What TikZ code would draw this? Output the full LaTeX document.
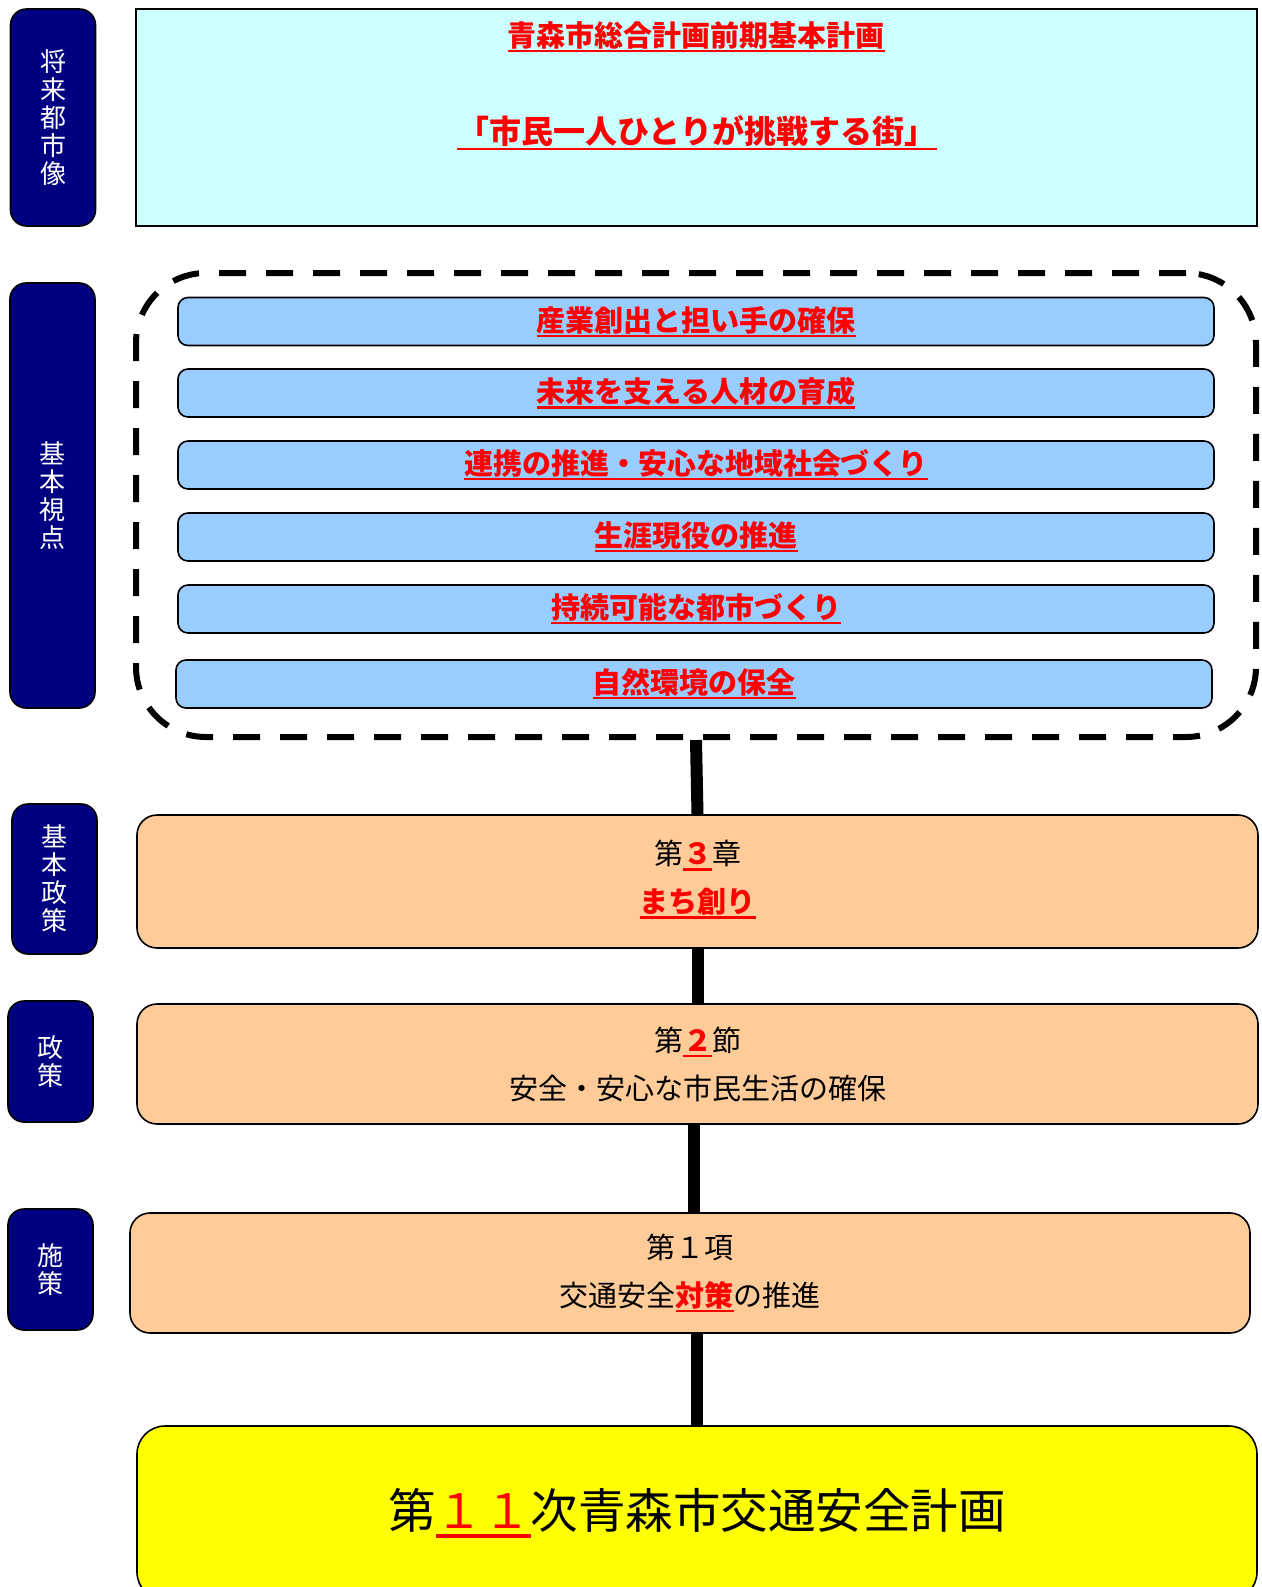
\documentclass[tikz,border=0pt]{standalone}
\usepackage{fontspec}
\setmainfont{Noto Sans CJK JP}
\usepackage{xcolor}
\usepackage{tikz}
\usetikzlibrary{positioning}

\definecolor{tagnavy}{RGB}{0,0,128}
\definecolor{visionfill}{HTML}{CCFFFF}
\definecolor{viewfill}{HTML}{99CCFF}
\definecolor{stagefill}{HTML}{FFCC99}
\definecolor{planfill}{HTML}{FFFF00}
\newcommand{\uln}[1]{\setbox0=\hbox{#1}\rlap{\rule[-0.2em]{\wd0}{0.075em}}\box0}
\newcommand{\hot}[1]{\textcolor{red}{\bfseries\uln{#1}}}

\begin{document}
\begin{tikzpicture}[x=0.5pt,y=-0.5pt,
    tag/.style={shape=rectangle, rounded corners=8pt, draw=black, line width=0.8pt, fill=tagnavy,
      text=white, inner sep=0pt, minimum width=42.5pt, align=center, font=\fontsize{13}{14}\selectfont},
    view/.style={shape=rectangle, rounded corners=5pt, draw=black, line width=0.8pt, fill=viewfill,
      inner sep=0pt, minimum width=518pt, minimum height=24pt, font=\fontsize{14.5}{16}\selectfont},
    stage/.style={shape=rectangle, rounded corners=10pt, draw=black, line width=0.8pt, fill=stagefill,
      inner sep=0pt, minimum width=560.5pt, align=center, font=\fontsize{14.5}{24}\selectfont},
    link/.style={line width=6pt, black}]
    \useasboundingbox (0,0) rectangle (1262,1587);

    % left column
    \node[tag, minimum height=108.5pt] (t1) at (53,117.5) {将\\来\\都\\市\\像};
    \node[tag, minimum height=212.5pt] (t2) at (52.5,495.5) {基\\本\\視\\点};
    \node[tag, minimum height=75pt] (t3) at (54.5,879) {基\\本\\政\\策};
    \node[tag, minimum height=60.5pt] (t4) at (50.5,1061.5) {政\\策};
    \node[tag, minimum height=60.5pt] (t5) at (50.5,1269.5) {施\\策};

    % vision
    \node[draw=black, line width=1pt, fill=visionfill, minimum width=560.5pt, minimum height=108.5pt, inner sep=0pt] (vision) at (696.5,117.5) {};
    \node[font=\fontsize{14.5}{16}\selectfont, inner sep=0pt] (vtitle) at (696,37) {\hot{青森市総合計画前期基本計画}};
    \node[font=\fontsize{16}{18}\selectfont, inner sep=0pt] (vslogan) at (697,133) {\hot{「市民一人ひとりが挑戦する街」}};

    % basic views
    \node[draw=black, line width=3pt, dash pattern=on 13.5pt off 10pt, rounded corners=35pt,
      minimum width=560pt, minimum height=232pt, inner sep=0pt] (views) at (696,505) {};
    \node[view] (v1) at (696,321.5) {\hot{産業創出と担い手の確保}};
    \node[view] (v2) at (696,393) {\hot{未来を支える人材の育成}};
    \node[view] (v3) at (696,465) {\hot{連携の推進・安心な地域社会づくり}};
    \node[view] (v4) at (696,537) {\hot{生涯現役の推進}};
    \node[view] (v5) at (696,609) {\hot{持続可能な都市づくり}};
    \node[view] (v6) at (694,684) {\hot{自然環境の保全}};

    % policy chain
    \node[stage, minimum height=66.5pt] (ch) at (697.5,881.5) {第\textcolor{red}{\bfseries\uln{３}}章\\\hot{まち創り}\\[-19pt]\mbox{}};
    \node[stage, minimum height=60pt] (sec) at (697.5,1064) {第\textcolor{red}{\bfseries\uln{２}}節\\安全・安心な市民生活の確保};
    \node[stage, minimum width=560pt, minimum height=60pt] (item) at (690,1273) {第１項\\交通安全\hot{対策}の推進};
    \node[shape=rectangle, rounded corners=14pt, draw=black, line width=0.8pt, fill=planfill,
      minimum width=560pt, minimum height=87pt, inner sep=0pt, font=\fontsize{23.75}{26}\selectfont] (plan) at (697,1513)
      {第\textcolor{red}{\uln{１１}}次青森市交通安全計画};

    \draw[link] (views.south) -- (ch.north);
    \draw[link] (ch.south) -- (sec.north);
    \draw[link] ([xshift=-2pt]sec.south) -- ([xshift=-2pt]sec.south |- item.north);
    \draw[link] (plan.north |- item.south) -- (plan.north);
\end{tikzpicture}
\end{document}
